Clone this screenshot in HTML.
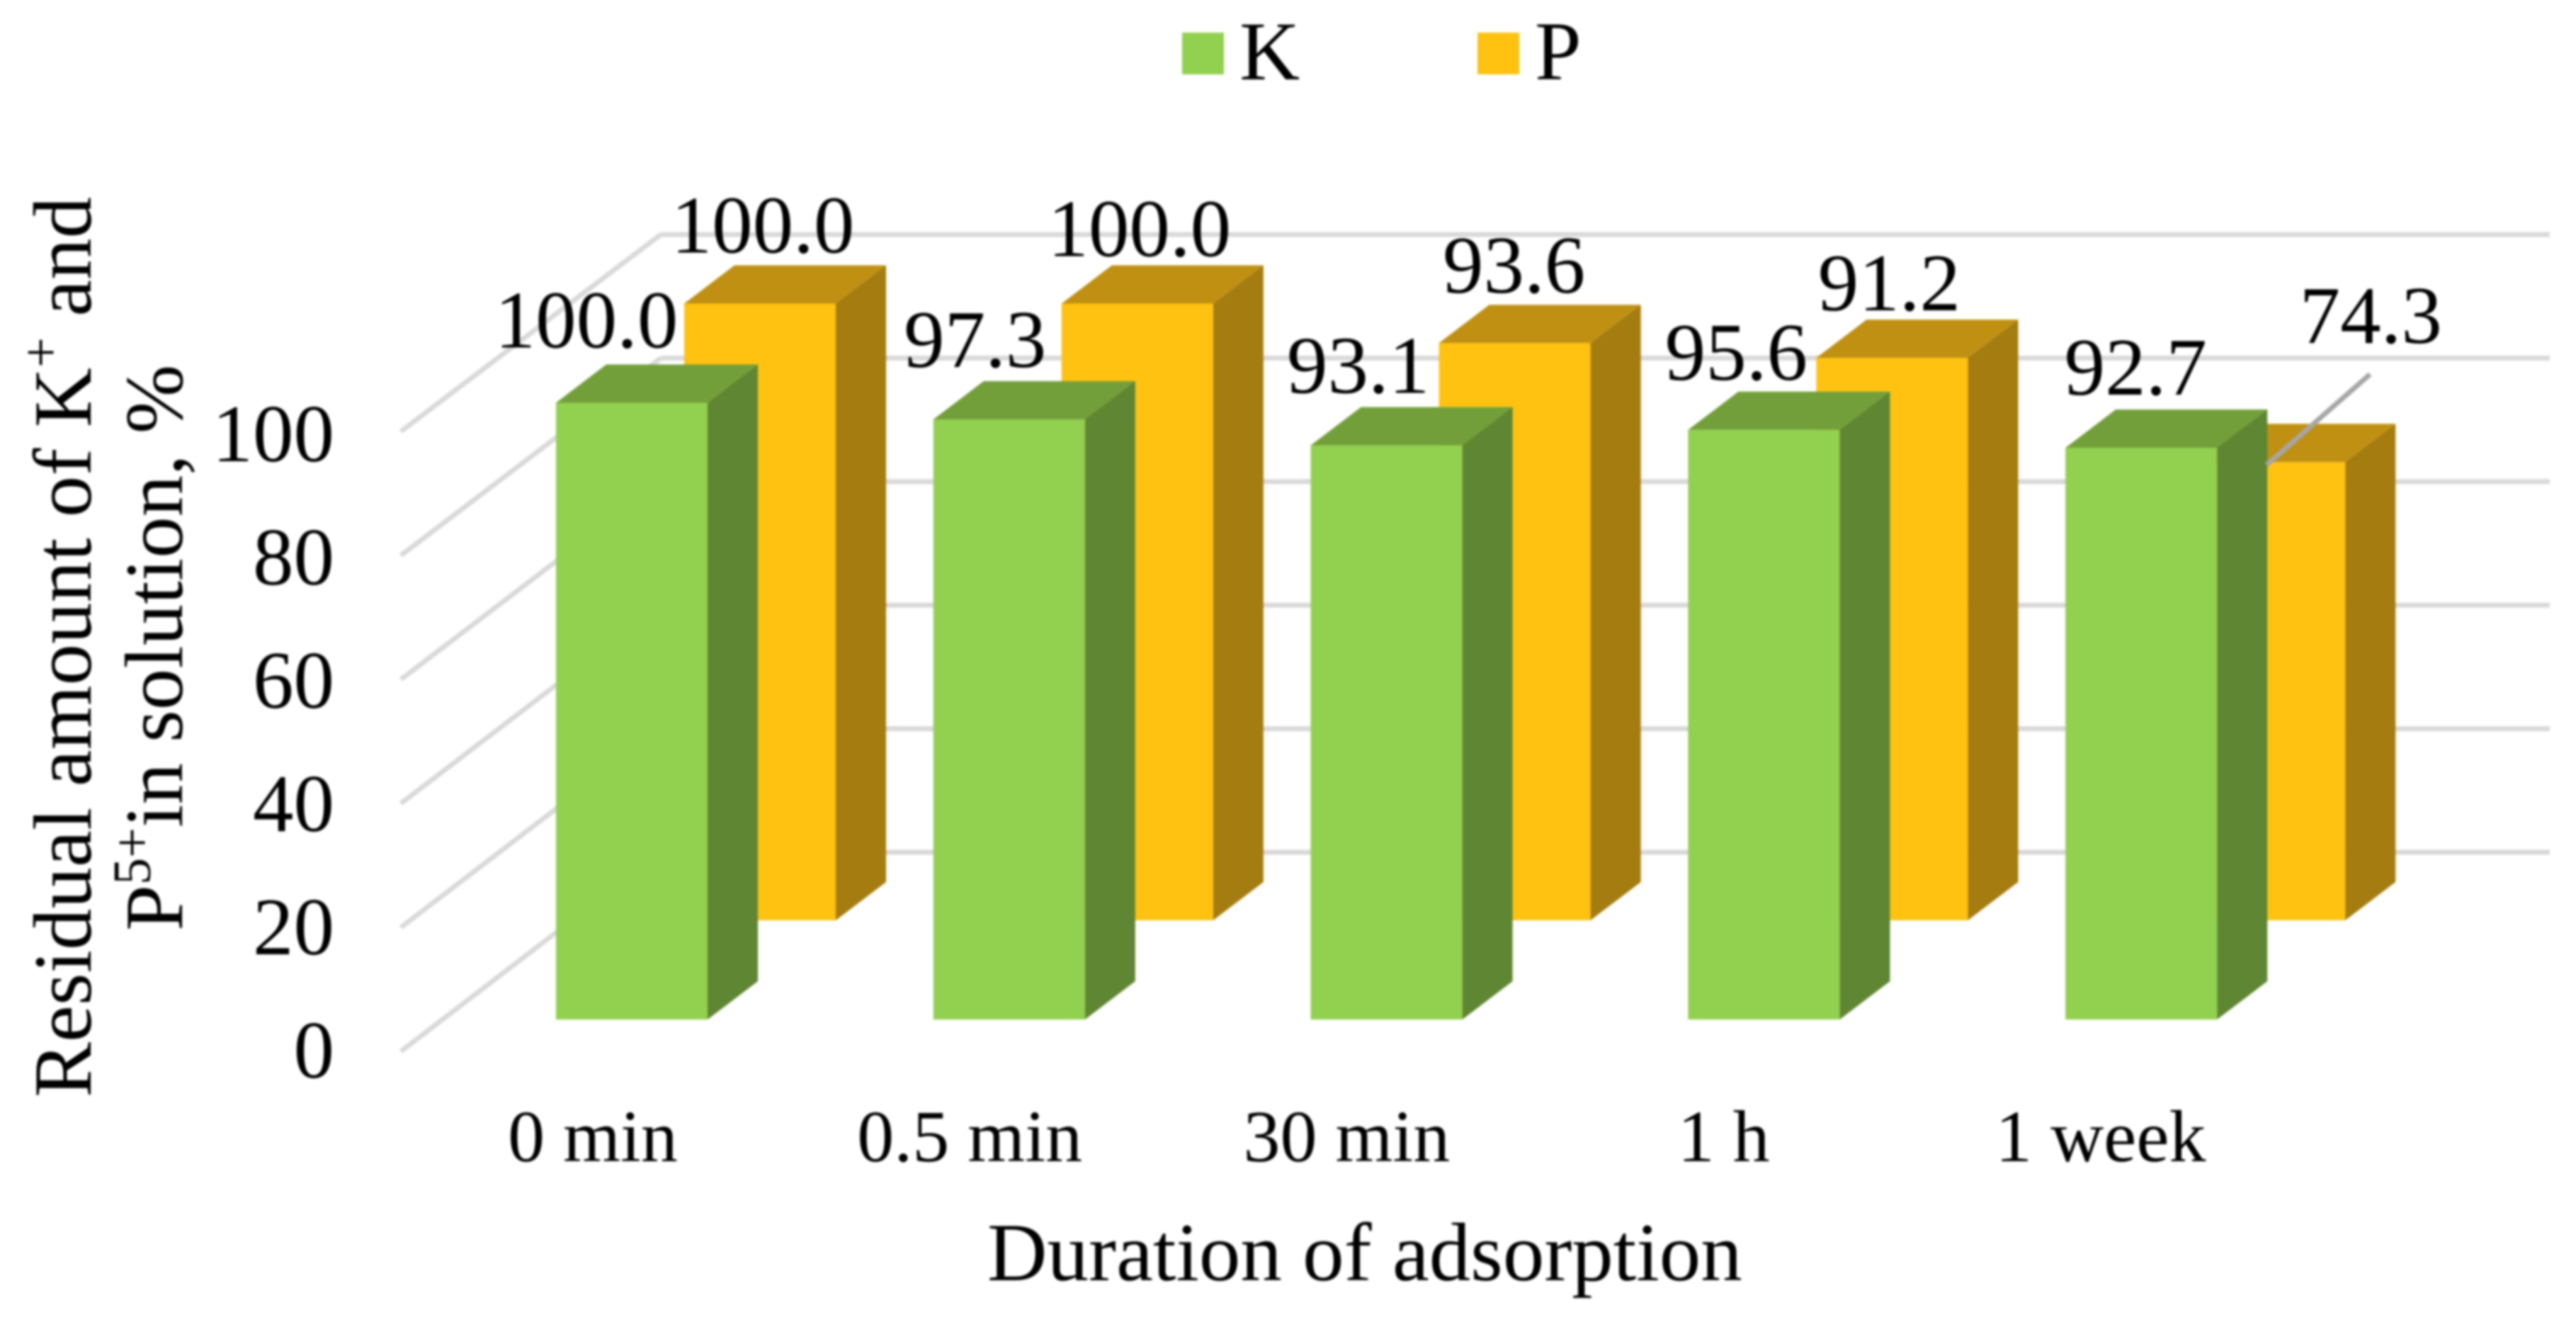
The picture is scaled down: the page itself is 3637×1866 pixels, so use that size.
<!DOCTYPE html>
<html lang="en">
<head>
<meta charset="utf-8">
<title>Residual amount of K+ and P5+ in solution</title>
<style>
  html, body { margin: 0; padding: 0; background: #ffffff; }
  body { width: 3637px; height: 1866px; overflow: hidden; }
  svg { display: block; filter: blur(1.5px); }
  text { font-family: "Liberation Serif", "Times New Roman", serif; fill: #000000; }
</style>
</head>
<body>
<svg id="chart" xmlns="http://www.w3.org/2000/svg" width="3637" height="1866" viewBox="0 0 3637 1866">
  <rect x="0" y="0" width="3637" height="1866" fill="#ffffff"/>
  <g id="grid"></g>
  <g id="bars-p"></g>
  <g id="bars-k"></g>
  <g id="labels"></g>
  <g id="yticks"></g>
  <g id="xticks"></g>

  <g>
    <rect x="1669" y="46" width="59" height="59" fill="#92d050"/>
    <text x="1750" y="112" font-size="118">K</text>
    <rect x="2086" y="46" width="59" height="59" fill="#ffc211"/>
    <text x="2167" y="112" font-size="118">P</text>
  </g>

  <text transform="translate(128,1549) rotate(-90)" font-size="117">Residual amount of K<tspan font-size="76" dy="-45">+</tspan><tspan dy="45"> and</tspan></text>
  <text transform="translate(257,1314) rotate(-90)" font-size="117">P<tspan font-size="76" dy="-45">5+</tspan><tspan dy="45">in solution, %</tspan></text>
  <text x="1394" y="1807" font-size="117">Duration of adsorption</text>
</svg>

<script>
const categories = ["0 min", "0.5 min", "30 min", "1 h", "1 week"];
const seriesK = [100.0, 97.3, 93.1, 95.6, 92.7];
const seriesP = [100.0, 100.0, 93.6, 91.2, 74.3];
const yTicks = [0, 20, 40, 60, 80, 100];

const NS = "http://www.w3.org/2000/svg";

function make(tag, parent) {
  const el = document.createElementNS(NS, tag);
  parent.appendChild(el);
  return el;
}

/* axis functions */
const pxPerUnit = 8.705;
const barWidth = 214;
const depthX = 71;
const depthY = 54;
function kLeft(i) { return 785 + 532.8 * i; }
function pLeft(i) { return 966 + 532.8 * i; }
function kBase() { return 1439; }
function pBase() { return 1299; }
function barHeight(v) { return v * pxPerUnit; }
function backWallY(v) { return 1203 - v * 8.72; }
function sideWallY(v) { return 1484 - v * 8.75; }
function tickBaseline(v) { return 1521 - v * 8.7; }

/* gridlines */
const gridGroup = document.getElementById("grid");
yTicks.forEach(function (t) {
  const back = make("line", gridGroup);
  
  
  back.setAttribute("x1", 933);
  back.setAttribute("x2", 3600);
  back.setAttribute("y1", backWallY(t));
  back.setAttribute("y2", backWallY(t));
  back.setAttribute("stroke", "#d9d9d9");
  back.setAttribute("stroke-width", 7);

  const side = make("line", gridGroup);
  
  
  side.setAttribute("x1", 566);
  side.setAttribute("x2", 933);
  side.setAttribute("y1", sideWallY(t));
  side.setAttribute("y2", backWallY(t));
  side.setAttribute("stroke", "#d9d9d9");
  side.setAttribute("stroke-width", 7);
});

/* bars */
function drawBar(parent, name, left, base, value, front, sideColor, topColor) {
  const top = base - barHeight(value);
  const right = left + barWidth;

  const g = make("g", parent);
  
  

  const sidePoly = make("polygon", g);
  
  
  sidePoly.setAttribute("points",
    right + "," + base + " " +
    (right + depthX) + "," + (base - depthY) + " " +
    (right + depthX) + "," + (top - depthY) + " " +
    right + "," + top);
  sidePoly.setAttribute("fill", sideColor);

  const topPoly = make("polygon", g);
  
  
  topPoly.setAttribute("points",
    left + "," + top + " " +
    (left + depthX) + "," + (top - depthY) + " " +
    (right + depthX) + "," + (top - depthY) + " " +
    right + "," + top);
  topPoly.setAttribute("fill", topColor);

  const frontRect = make("rect", g);
  
  
  frontRect.setAttribute("x", left);
  frontRect.setAttribute("y", top);
  frontRect.setAttribute("width", barWidth);
  frontRect.setAttribute("height", base - top);
  frontRect.setAttribute("fill", front);
}

const pGroup = document.getElementById("bars-p");
seriesP.forEach(function (v, i) {
  drawBar(pGroup, "p-" + i, pLeft(i), pBase(), v, "#ffc211", "#a57c10", "#bf9012");
});
const kGroup = document.getElementById("bars-k");
seriesK.forEach(function (v, i) {
  drawBar(kGroup, "k-" + i, kLeft(i), kBase(), v, "#92d050", "#5f8632", "#739f3b");
});

/* value labels */
function drawLabel(parent, name, x, y, value) {
  const t = make("text", parent);
  
  
  t.setAttribute("x", x);
  t.setAttribute("y", y);
  t.setAttribute("font-size", 115);
  t.setAttribute("text-anchor", "middle");
  t.textContent = value.toFixed(1);
}

const labelGroup = document.getElementById("labels");
const kNudge = [43, 59, 67, 68, 99];
const pNudge = [111, 110, 106, 103, 250];
const kRaise = [78, 74, 74, 71, 75];
const pRaise = [72, 67, 71, 67, 168];
seriesK.forEach(function (v, i) {
  drawLabel(labelGroup, "k-" + i, kLeft(i) + kNudge[i], kBase() - barHeight(v) - kRaise[i], v);
});
seriesP.forEach(function (v, i) {
  drawLabel(labelGroup, "p-" + i, pLeft(i) + pNudge[i], pBase() - barHeight(v) - pRaise[i], v);
});

/* leader line for the last P label */
const lastIndex = seriesP.length - 1;
const lastTop = pBase() - barHeight(seriesP[lastIndex]);
const leader = make("line", labelGroup);


leader.setAttribute("x1", pLeft(lastIndex) + 103);
leader.setAttribute("y1", lastTop + 4);
leader.setAttribute("x2", pLeft(lastIndex) + 249);
leader.setAttribute("y2", lastTop - 124);
leader.setAttribute("stroke", "#a6a6a6");
leader.setAttribute("stroke-width", 7);

/* y ticks */
const yGroup = document.getElementById("yticks");
yTicks.forEach(function (t) {
  const label = make("text", yGroup);
  
  
  label.setAttribute("x", 472);
  label.setAttribute("y", tickBaseline(t));
  label.setAttribute("font-size", 115);
  label.setAttribute("text-anchor", "end");
  label.textContent = String(t);
});

/* x ticks */
const xGroup = document.getElementById("xticks");
categories.forEach(function (c, i) {
  const label = make("text", xGroup);
  
  
  label.setAttribute("x", 837 + 532.2 * i);
  label.setAttribute("y", 1639);
  label.setAttribute("font-size", 104);
  label.setAttribute("text-anchor", "middle");
  label.textContent = c;
});
</script>
</body>
</html>
